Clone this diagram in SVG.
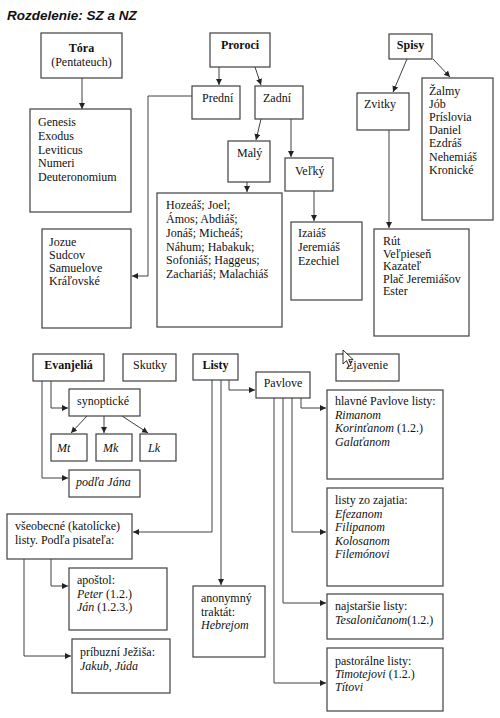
<svg xmlns="http://www.w3.org/2000/svg" width="500" height="718" viewBox="0 0 500 718">
<style>
.b{fill:#fff;stroke:#404040;stroke-width:1.2}
text{font-family:"Liberation Serif","Times New Roman","DejaVu Serif",serif;font-size:12px;fill:#111}
.bd{font-weight:bold}
.c{text-anchor:middle}
.i{font-style:italic}
.ln{fill:none;stroke:#404040;stroke-width:1}
.title{font-family:"Liberation Sans",Arial,sans-serif;font-weight:bold;font-style:italic;font-size:13.5px}
</style>
<defs>
<marker id="ah" markerUnits="userSpaceOnUse" markerWidth="7" markerHeight="7" refX="6" refY="3" orient="auto"><path d="M0,0 L6,3 L0,6 z" fill="#222"/></marker>
</defs>
<rect width="500" height="718" fill="#fff"/>
<text class="title" x="7" y="20">Rozdelenie: SZ a NZ</text>

<g id="connectors" class="ln" marker-end="url(#ah)">
<path d="M82,78 V109"/>
<path d="M219,67 V85"/>
<path d="M255,67 L261,85"/>
<path d="M193,96 H148 V276 H132"/>
<path d="M261,119 L256,140"/>
<path d="M291,119 V157"/>
<path d="M247,182 V192"/>
<path d="M314,191 V221"/>
<path d="M407,59 L393,92"/>
<path d="M433,59 L450,77"/>
<path d="M389,130 V228"/>
<path d="M51,381 V408 H68"/>
<path d="M42,381 V478 H68"/>
<path d="M87,416 L71,433"/>
<path d="M104,416 V433"/>
<path d="M122,416 L148,433"/>
<path d="M229,380 V390 H255"/>
<path d="M212,380 V532 H133"/>
<path d="M221,380 V585"/>
<path d="M301,398 V408 H326"/>
<path d="M292,398 V532 H326"/>
<path d="M283,398 V603 H326"/>
<path d="M274,398 V683 H326"/>
<path d="M51,559 V586 H68"/>
<path d="M24,559 V656 H71"/>
</g>

<g id="tora"><rect class="b" x="41" y="33" width="81" height="45"/><text class="bd c" x="81.5" y="52">Tóra</text><text class="c" x="81.5" y="66">(Pentateuch)</text></g>
<g id="pentateuch"><rect class="b" x="30" y="109" width="101" height="103"/>
<text x="38" y="126">Genesis</text><text x="38" y="140">Exodus</text><text x="38" y="153.5">Leviticus</text><text x="38" y="167">Numeri</text><text x="38" y="180.5">Deuteronomium</text></g>
<g id="proroci"><rect class="b" x="210" y="33" width="60" height="34"/><text class="bd c" x="240" y="49">Proroci</text></g>
<g id="predni"><rect class="b" x="192" y="86" width="48" height="33"/><text x="202" y="102">Prední</text></g>
<g id="zadni"><rect class="b" x="255" y="86" width="48" height="33"/><text x="263" y="102">Zadní</text></g>
<g id="maly"><rect class="b" x="228" y="141" width="42" height="41"/><text x="237" y="157">Malý</text></g>
<g id="velky"><rect class="b" x="285" y="158" width="48" height="33"/><text x="295" y="175">Veľký</text></g>
<g id="mali-proroci"><rect class="b" x="157" y="193" width="125" height="134"/>
<text x="166" y="209">Hozeáš; Joel;</text><text x="166" y="223">Ámos; Abdiáš;</text><text x="166" y="237">Jonáš; Micheáš;</text><text x="166" y="250.5">Náhum; Habakuk;</text><text x="166" y="264">Sofoniáš; Haggeus;</text><text x="166" y="277.5">Zachariáš; Malachiáš</text></g>
<g id="velki-proroci"><rect class="b" x="291" y="222" width="71" height="78"/>
<text x="298" y="237">Izaiáš</text><text x="298" y="251">Jeremiáš</text><text x="298" y="265">Ezechiel</text></g>
<g id="predni-knihy"><rect class="b" x="42" y="229" width="89" height="99"/>
<text x="49" y="246">Jozue</text><text x="49" y="259">Sudcov</text><text x="49" y="272">Samuelove</text><text x="49" y="285">Kráľovské</text></g>
<g id="spisy"><rect class="b" x="389" y="34" width="43" height="25"/><text class="bd c" x="410.5" y="49">Spisy</text></g>
<g id="zvitky"><rect class="b" x="357" y="93" width="52" height="37"/><text x="364" y="108">Zvitky</text></g>
<g id="zalmy"><rect class="b" x="422" y="78" width="71" height="142"/>
<text x="429" y="95">Žalmy</text><text x="429" y="108">Jób</text><text x="429" y="121">Príslovia</text><text x="429" y="134">Daniel</text><text x="429" y="147">Ezdráš</text><text x="429" y="161">Nehemiáš</text><text x="429" y="174">Kronické</text></g>
<g id="rut"><rect class="b" x="374" y="229" width="95" height="107"/>
<text x="383" y="245">Rút</text><text x="383" y="257.5">Veľpieseň</text><text x="383" y="270">Kazateľ</text><text x="383" y="282.5">Plač Jeremiášov</text><text x="383" y="295">Ester</text></g>

<g id="evanjelia"><rect class="b" x="33" y="354" width="71" height="27"/><text class="bd c" x="68.5" y="369">Evanjeliá</text></g>
<g id="skutky"><rect class="b" x="123" y="354" width="53" height="27"/><text x="133" y="369">Skutky</text></g>
<g id="listy"><rect class="b" x="193" y="354" width="45" height="26"/><text class="bd c" x="215.5" y="369">Listy</text></g>
<g id="zjavenie"><rect class="b" x="336" y="354" width="63" height="27"/><text x="346" y="369">Zjavenie</text></g>
<g id="synopticke"><rect class="b" x="69" y="389" width="71" height="27"/><text x="77" y="405">synoptické</text></g>
<g id="mt"><rect class="b" x="51" y="434" width="36" height="27"/><text class="i" x="57" y="452">Mt</text></g>
<g id="mk"><rect class="b" x="96" y="434" width="36" height="27"/><text class="i" x="103" y="452">Mk</text></g>
<g id="lk"><rect class="b" x="140" y="434" width="36" height="27"/><text class="i" x="148" y="452">Lk</text></g>
<g id="jan"><rect class="b" x="69" y="470" width="71" height="27"/><text class="i" x="76" y="486">podľa Jána</text></g>
<g id="pavlove"><rect class="b" x="256" y="372" width="54" height="26"/><text class="c" x="283" y="387">Pavlove</text></g>
<g id="hlavne"><rect class="b" x="327" y="390" width="116" height="89"/>
<text x="335" y="405">hlavné Pavlove listy:</text><text class="i" x="335" y="419">Rimanom</text><text x="335" y="432"><tspan class="i">Korinťanom</tspan> (1.2.)</text><text class="i" x="335" y="446">Galaťanom</text></g>
<g id="zajatie"><rect class="b" x="327" y="488" width="116" height="98"/>
<text x="335" y="504">listy zo zajatia:</text><text class="i" x="335" y="517.5">Efezanom</text><text class="i" x="335" y="531">Filipanom</text><text class="i" x="335" y="544.5">Kolosanom</text><text class="i" x="335" y="558">Filemónovi</text></g>
<g id="najstarsie"><rect class="b" x="327" y="594" width="116" height="45"/>
<text x="335" y="610">najstaršie listy:</text><text x="335" y="623.5"><tspan class="i">Tesaloničanom</tspan>(1.2.)</text></g>
<g id="pastoralne"><rect class="b" x="327" y="648" width="116" height="63"/>
<text x="335" y="665">pastorálne listy:</text><text x="335" y="678"><tspan class="i">Timotejovi</tspan> (1.2.)</text><text class="i" x="335" y="691">Títovi</text></g>
<g id="vseobecne"><rect class="b" x="7" y="514" width="125" height="45"/>
<text x="15" y="530">všeobecné (katolícke)</text><text x="15" y="543.5">listy. Podľa pisateľa:</text></g>
<g id="apostol"><rect class="b" x="69" y="568" width="98" height="62"/>
<text x="77" y="584">apoštol:</text><text x="77" y="597.5"><tspan class="i">Peter</tspan> (1.2.)</text><text x="77" y="611"><tspan class="i">Ján</tspan> (1.2.3.)</text></g>
<g id="pribuzni"><rect class="b" x="72" y="639" width="98" height="54"/>
<text x="80" y="656">príbuzní Ježiša:</text><text class="i" x="80" y="669.5">Jakub, Júda</text></g>
<g id="anonymny"><rect class="b" x="193" y="586" width="72" height="71"/>
<text x="201" y="602">anonymný</text><text x="201" y="615.5">traktát:</text><text class="i" x="201" y="629">Hebrejom</text></g>

<path d="M343,350 V364 L346.5,360.6 L349,366.2 L351.2,365.2 L348.7,359.7 L353.2,359.7 Z" fill="#fff" stroke="#000" stroke-width="0.8"/>
</svg>
